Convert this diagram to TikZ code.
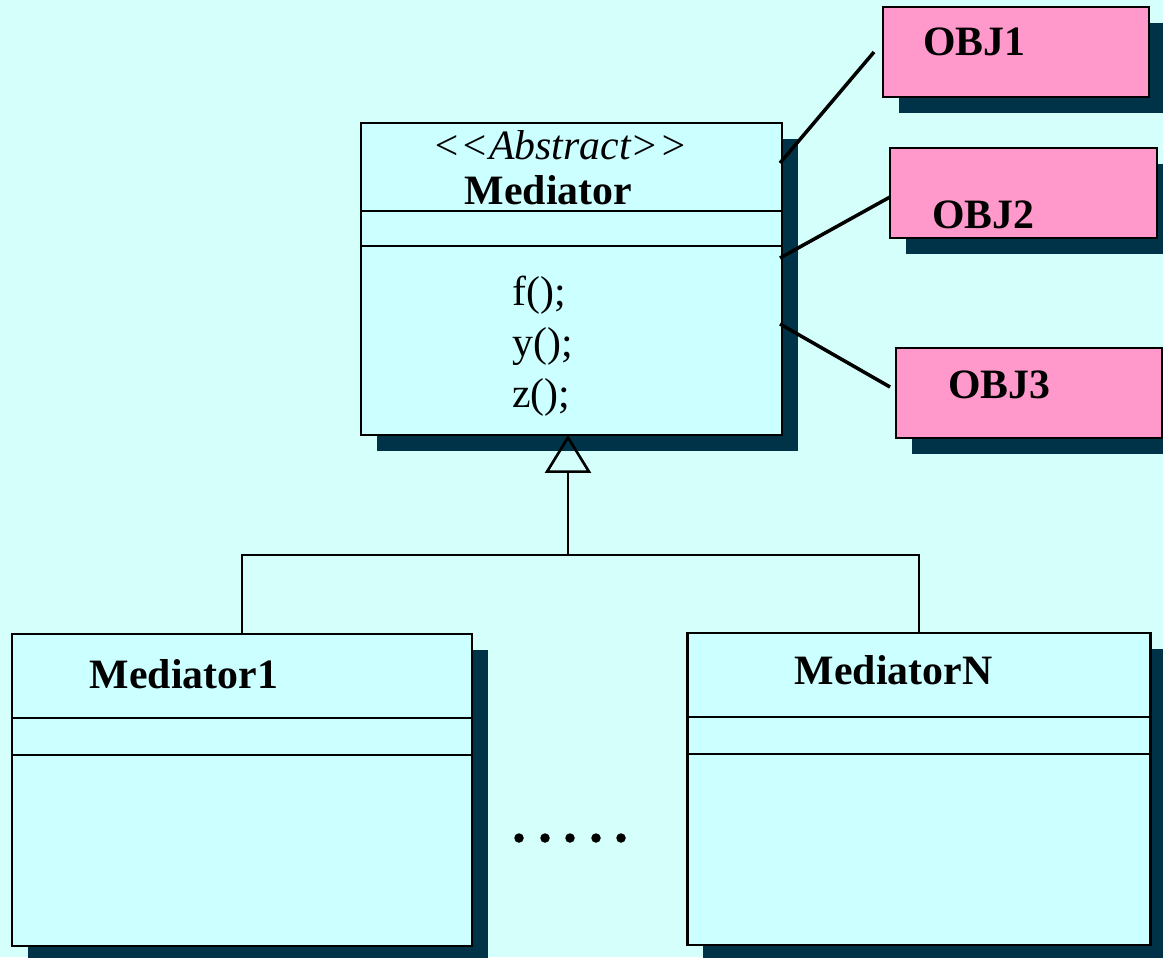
\documentclass[tikz,border=0pt]{standalone}
\usepackage{fontspec}
\setmainfont{Liberation Serif}
\usetikzlibrary{arrows.meta,calc,shadows}
\definecolor{backg}{RGB}{212,255,250}
\definecolor{classfill}{RGB}{204,255,255}
\definecolor{objfill}{RGB}{255,153,204}
\definecolor{shade}{RGB}{0,51,71}
\tikzset{
  umlclass/.style={draw, line width=1.6pt, fill=classfill, inner sep=0pt, outer sep=0pt,
    general shadow={fill=shade, shadow xshift=0.32cm, shadow yshift=-0.32cm}},
  objbox/.style={umlclass, fill=objfill},
  divider/.style={line width=1.3pt},
  objlink/.style={line width=2pt},
  genline/.style={line width=1.5pt},
  genarrow/.style={genline, -{Triangle[open, length=0.76cm, width=0.92cm]}},
  txt/.style={font=\fontsize{23.8}{28}\selectfont, inner sep=0pt, anchor=base},
  boldtxt/.style={txt, font=\fontsize{23.8}{28}\selectfont\bfseries},
}

\begin{document}
\begin{tikzpicture}[x=0.02cm, y=-0.02cm]
    %% Background
    \useasboundingbox (0,0) rectangle (1163,957);
    \fill[backg] (0,0) rectangle (1163,957);
    %% Abstract mediator
    \node[umlclass, minimum width=8.42cm, minimum height=6.24cm] (med) at (571.5,279) {};
    \draw[divider] ($(med.north west)+(0,88)$) -- ($(med.north east)+(0,88)$);
    \draw[divider] ($(med.north west)+(0,123)$) -- ($(med.north east)+(0,123)$);
    \node[txt, font=\fontsize{23.8}{28}\selectfont\itshape] (stereo) at (560,159) {<{}<Abstract>{}>};
    \node[boldtxt] (medname) at (548.5,204) {Mediator};
    \node[txt, anchor=base west] (opf) at (512,305) {f();};
    \node[txt, anchor=base west] (opy) at (512,356) {y();};
    \node[txt, anchor=base west] (opz) at (512,407) {z();};
    %% Colleagues
    \node[objbox, minimum width=5.32cm, minimum height=1.8cm] (obj1) at (1016,52) {};
    \node[boldtxt] (obj1txt) at (974.5,55) {OBJ1};
    \node[objbox, minimum width=5.34cm, minimum height=1.8cm] (obj2) at (1023.5,193) {};
    \node[boldtxt] (obj2txt) at (983.5,228) {OBJ2};
    \node[objbox, minimum width=5.32cm, minimum height=1.8cm] (obj3) at (1029,393) {};
    \node[boldtxt] (obj3txt) at (999.5,398) {OBJ3};
    \coordinate (p1) at (780,163);
    \coordinate (p2) at (780,258);
    \coordinate (p3) at (780,324);
    \draw[objlink] (p1) -- ([xshift=-0.18cm]obj1.west);
    \draw[objlink] (p2) -- ([yshift=-0.08cm]obj2.west);
    \draw[objlink] (p3) -- ([xshift=-0.12cm,yshift=0.12cm]obj3.west);
    %% Concrete mediators
    \node[umlclass, minimum width=9.2cm, minimum height=6.24cm] (med1) at (242,790) {};
    \draw[divider] ($(med1.north west)+(0,84)$) -- ($(med1.north east)+(0,84)$);
    \draw[divider] ($(med1.north west)+(0,121)$) -- ($(med1.north east)+(0,121)$);
    \node[boldtxt] (med1name) at (184,688) {Mediator1};
    \node[umlclass, minimum width=9.27cm, minimum height=6.24cm] (medN) at (919,789) {};
    \draw[divider] ($(medN.north west)+(0,84)$) -- ($(medN.north east)+(0,84)$);
    \draw[divider] ($(medN.north west)+(0,121)$) -- ($(medN.north east)+(0,121)$);
    \node[boldtxt] (medNname) at (893.5,684) {MediatorN};
    \foreach \dx in {519,545,570,596,621}
        \fill (\dx,838) circle[radius=0.095cm];
    %% Generalization
    \coordinate (j) at (568,555);
    \draw[genarrow] (j) -- (j |- med.south);
    \draw[genline] (med1.north) |- (j) -| (medN.north);
\end{tikzpicture}
\end{document}
